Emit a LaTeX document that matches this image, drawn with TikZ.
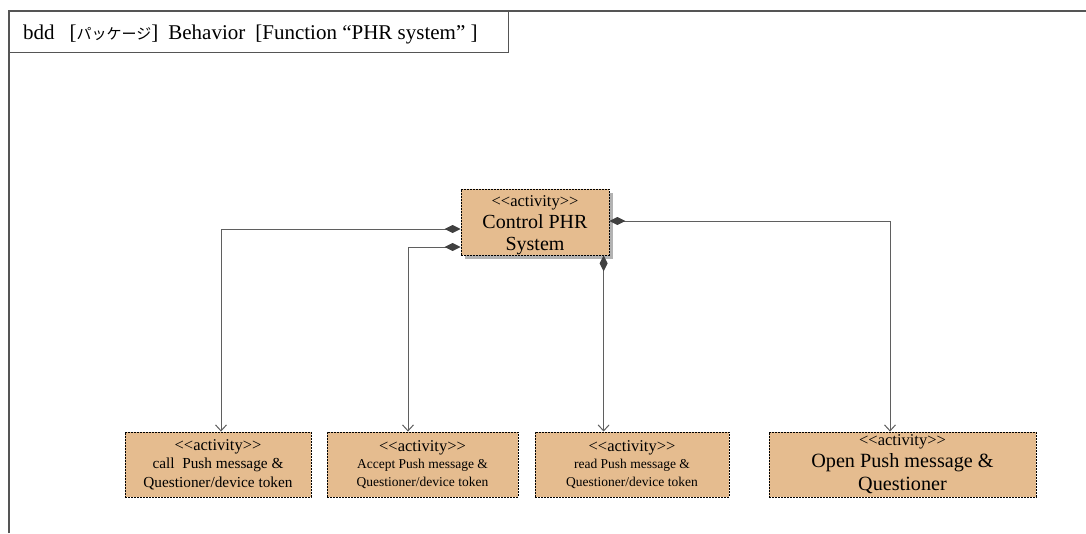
\documentclass[tikz,border=0pt]{standalone}
\usepackage{fontspec}
\setmainfont{Liberation Serif}
\newfontfamily\jpfont{Noto Sans CJK JP}
\usetikzlibrary{arrows.meta,calc,shadows}
\definecolor{actfill}{RGB}{229,188,143}
\definecolor{framegray}{RGB}{85,85,85}
\definecolor{linkgray}{RGB}{95,95,95}
\definecolor{tipgray}{RGB}{64,64,64}
\definecolor{shadowgray}{RGB}{178,178,178}
\newcommand\stereo{<\kern0pt<activity>\kern0pt>}
\newcommand\fs[2]{\fontsize{#1}{#2}\selectfont}
\begin{document}
\begin{tikzpicture}[x=1pt,y=-1pt,
  actbox/.style={draw=black, fill=actfill, line width=0.8pt,
    dash pattern=on 2pt off 1pt, inner sep=0pt, align=center},
  framestroke/.style={draw=framegray, line width=1.3pt},
  link/.style={draw=linkgray, line width=1pt,
    {Diamond[length=16pt,width=8pt,color=tipgray,fill=tipgray]}-{Straight Barb[length=6pt,width=11pt]}},
]
\useasboundingbox (0,0) rectangle (1086,533);

% diagram frame and its heading
\draw[framestroke] (9,533) -- (9,11) -- (1086,11);
\node[framestroke, fill=white, minimum width=499pt, minimum height=41pt,
      inner sep=0pt, anchor=north west] (hdr) at (9,11) {};
\node[anchor=base west, inner sep=0pt, font=\fs{21}{24}] (hdrtext) at ($(hdr.west)+(14,7)$)
  {bdd\hspace{15pt}[{\jpfont\fs{15}{17}パッケージ}]\hspace{10pt}Behavior\hspace{10pt}[Function “PHR system” ]};

% activities
\node[actbox, minimum width=148pt, minimum height=66pt,
      font=\fs{20}{22},
      drop shadow={shadow xshift=4pt, shadow yshift=-4pt, opacity=1, fill=shadowgray}]
  (ctrl) at (535,222)
  {{\fs{16.5}{22}\rule{0pt}{17pt}\stereo}\\ Control PHR\\ System};

\node[actbox, minimum width=186pt, minimum height=65pt, font=\fs{15.3}{18.5}] (b1) at (218,464.5)
  {{\fs{16.5}{18.5}\stereo}\\ call\ \ Push message \&\\ Questioner/device token};
\node[actbox, minimum width=191pt, minimum height=65pt, font=\fs{13.5}{17.5}] (b2) at (422.5,464.5)
  {{\fs{16.5}{17.5}\stereo}\\ Accept Push message \&\\ Questioner/device token};
\node[actbox, minimum width=194pt, minimum height=65pt, font=\fs{13.5}{17.5}] (b3) at (632,464.5)
  {{\fs{16.5}{17.5}\stereo}\\ read Push message \&\\ Questioner/device token};
\node[actbox, minimum width=267pt, minimum height=65pt, font=\fs{20.2}{23.5}] (b4) at (902.5,464.5)
  {{\fs{16.5}{18}\stereo}\\[-2pt] Open Push message \&\\ Questioner};

% composition links
\coordinate (d1) at ($(b1.north)+(3,0)$);
\coordinate (d2) at ($(b2.north)+(-14.5,0)$);
\coordinate (d3) at ($(b3.north west)+(69,0)$);
\coordinate (d4) at ($(b4.north)+(-12.5,0)$);
\draw[link] ($(ctrl.west)+(0,7)$) -| (d1);
\draw[link] ($(ctrl.west)+(0,25)$) -| (d2);
\draw[link] (ctrl.south -| d3) -- (d3);
\draw[link] ($(ctrl.east)+(0,-1)$) -| (d4);
\end{tikzpicture}
\end{document}
